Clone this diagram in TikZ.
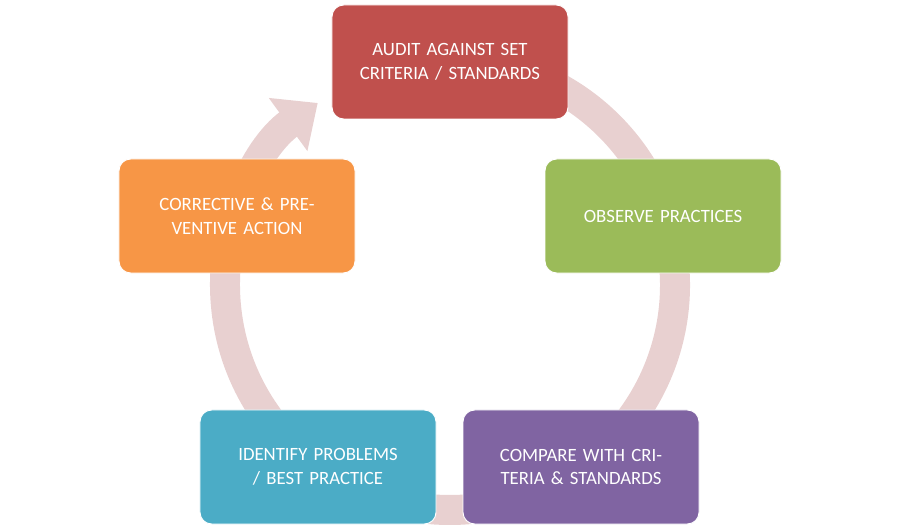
\documentclass[tikz,border=0pt]{standalone}
\usepackage{fontspec}
\setmainfont{Carlito}
\usetikzlibrary{arrows.meta}
\definecolor{ringcol}{HTML}{E8D0D0}
\definecolor{auditcol}{HTML}{C0504D}
\definecolor{observecol}{HTML}{9BBB59}
\definecolor{comparecol}{HTML}{8064A2}
\definecolor{identifycol}{HTML}{4BACC6}
\definecolor{actioncol}{HTML}{F79646}
\tikzset{
  stagebox/.style={rounded corners=0.35cm, minimum width=7.08cm, minimum height=3.42cm,
    text width=6.2cm, align=center, text=white, font=\fontsize{16pt}{20pt}\selectfont,
    draw=white, line width=0.8pt}
}
\begin{document}
\begin{tikzpicture}[x=0.03cm,y=0.03cm]
  \useasboundingbox (0,0) rectangle (900,529);
  % Ring
  \coordinate (hub) at (450,244);
  \draw[ringcol, line width=0.9cm, -{Triangle[width=1.9cm,length=1.1cm]}]
    ([shift={(95:225)}]hub) arc[start angle=95, end angle=-234, radius=225];
  % Stages
  \node[stagebox, fill=auditcol] (audit) at (450,467) {AUDIT AGAINST SET CRITERIA / STANDARDS};
  \node[stagebox, fill=observecol] (observe) at (663,313) {OBSERVE PRACTICES};
  \node[stagebox, fill=comparecol] (compare) at (581,62) {COMPARE WITH CRITERIA \& STANDARDS};
  \node[stagebox, fill=identifycol] (identify) at (318,62) {IDENTIFY PROBLEMS / BEST PRACTICE};
  \node[stagebox, fill=actioncol] (action) at (237,313) {CORRECTIVE \& PREVENTIVE ACTION};
\end{tikzpicture}
\end{document}
